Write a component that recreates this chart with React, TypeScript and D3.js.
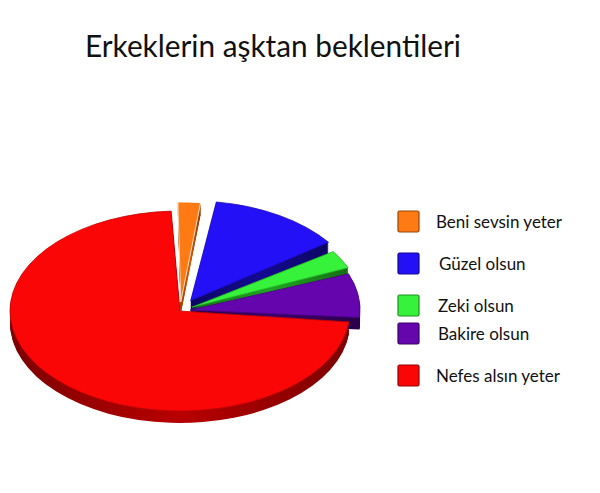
import React, { useEffect, useRef } from "react";
import * as d3 from "d3";

const title = "Erkeklerin aşktan beklentileri";
const categories = ["Beni sevsin yeter", "Güzel olsun", "Zeki olsun", "Bakire olsun", "Nefes alsın yeter"];
const shares = [2.2, 13, 3, 7.3, 74.5];
const explode = [0.09, 0.12, 0.08, 0.06, 0];
const topColors = ["#ff7a12", "#2410f6", "#36f23a", "#6405ad", "#fb0606"];
const sideColors = ["#b04a00", "#10087a", "#1a8a1a", "#33005a", "#9a0000"];

function drawChart(node: SVGSVGElement) {
  const width = 600;
  const height = 493;
  const cx = 180;
  const cy = 311;
  const rx = 170;
  const ry = 100;
  const depth = 12;

  const svg = d3.select(node);
  svg.selectAll("*").remove();
  svg.attr("width", width).attr("height", height);

  svg.append("rect").attr("width", width).attr("height", height).attr("fill", "#ffffff");

  const defs = svg.append("defs");
  sideColors.forEach((c, i) => {
    const g = defs.append("linearGradient").attr("id", "side" + i).attr("x1", 0).attr("x2", 1).attr("y1", 0).attr("y2", 0);
    g.append("stop").attr("offset", "0%").attr("stop-color", d3.color(c)!.darker(0.6).formatHex());
    g.append("stop").attr("offset", "50%").attr("stop-color", d3.color(c)!.brighter(0.5).formatHex());
    g.append("stop").attr("offset", "100%").attr("stop-color", d3.color(c)!.darker(0.6).formatHex());
  });

  // title
  svg
    .append("text")
    .attr("x", 85)
    .attr("y", 57)
    .attr("font-family", "Lato, 'Open Sans', sans-serif")
    .attr("font-size", 30)
    .attr("fill", "#111")
    .attr("textLength", 376)
    .attr("lengthAdjust", "spacingAndGlyphs")
    .text(title);

  const pie = d3
    .pie<number>()
    .sort(null)
    .startAngle((-2 * Math.PI) / 180)
    .endAngle((358 * Math.PI) / 180)
    .padAngle(0.035);
  const arcs = pie(shares);
  const arc = d3.arc<d3.PieArcDatum<number>>().innerRadius(0).outerRadius(1);

  const offsets = arcs.map((a, i) => {
    const mid = (a.startAngle + a.endAngle) / 2;
    return [rx * explode[i] * Math.sin(mid), -ry * explode[i] * Math.cos(mid)];
  });

  // draw order: red first, then the exploded slices
  const order = [4, 0, 1, 2, 3];

  const sides = svg.append("g");
  order.forEach((i) => {
    for (let k = depth; k >= 1; k--) {
      sides
        .append("path")
        .attr("d", arc(arcs[i]))
        .attr("transform", `translate(${cx + offsets[i][0]},${cy + offsets[i][1] + k}) scale(${rx},${ry})`)
        .attr("fill", `url(#side${i})`);
    }
  });

  const tops = svg.append("g");
  order.forEach((i) => {
    tops
      .append("path")
      .attr("d", arc(arcs[i]))
      .attr("transform", `translate(${cx + offsets[i][0]},${cy + offsets[i][1]}) scale(${rx},${ry})`)
      .attr("fill", topColors[i])
      .attr("stroke", i === 0 ? "#ffffff" : d3.color(topColors[i])!.darker(0.8).formatHex())
      .attr("stroke-width", 0.8)
      .attr("vector-effect", "non-scaling-stroke");
  });

  // legend
  const boxY = [211, 253, 295, 323, 365];
  const textX = [436, 439, 438, 438, 436];
  const legend = svg.append("g");
  categories.forEach((c, i) => {
    legend
      .append("rect")
      .attr("x", 398)
      .attr("y", boxY[i])
      .attr("width", 21)
      .attr("height", 21)
      .attr("rx", 1.5)
      .attr("fill", topColors[i])
      .attr("stroke", d3.color(topColors[i])!.darker(1.5).formatHex())
      .attr("stroke-width", 1.2);
    legend
      .append("text")
      .attr("x", textX[i])
      .attr("y", boxY[i] + 17)
      .attr("font-family", "Lato, 'Open Sans', sans-serif")
      .attr("font-size", 17)
      .attr("fill", "#111")
      .text(c);
  });
}

export default function App() {
  const ref = useRef<SVGSVGElement>(null);
  useEffect(() => {
    if (ref.current) drawChart(ref.current);
  }, []);
  return <svg ref={ref} style={{ position: "absolute", left: 0, top: 0 }} />;
}
